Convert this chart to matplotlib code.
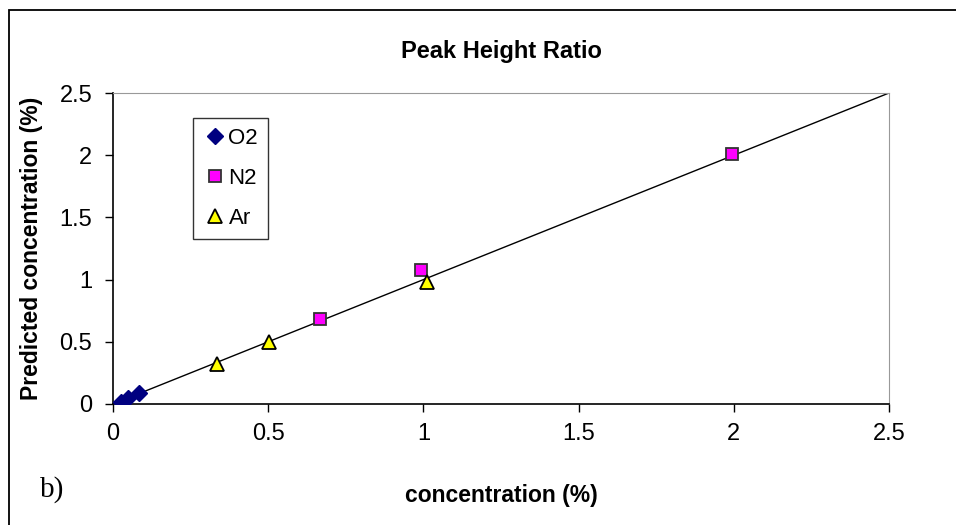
import matplotlib.pyplot as plt
from matplotlib.patches import Rectangle

# measured vs predicted concentration (%)
o2_conc = [0.025, 0.047, 0.085]
o2_pred = [0.02, 0.045, 0.085]
n2_conc = [0.667, 0.993, 1.993]
n2_pred = [0.68, 1.08, 2.01]
ar_conc = [0.335, 0.503, 1.01]
ar_pred = [0.32, 0.50, 0.98]
ideal = [0, 2.5]
ticks = [0, 0.5, 1, 1.5, 2, 2.5]
tick_labels = ['0', '0.5', '1', '1.5', '2', '2.5']

plt.rcParams['font.family'] = ['Liberation Sans', 'DejaVu Sans']

fig = plt.figure(figsize=(9.56, 5.25), dpi=100)
ax = fig.add_axes([113 / 956, 1 - 404 / 525, 776 / 956, 311 / 525])

# outer chart frame
fig.patches.append(Rectangle((9 / 956, -0.1), 1.2, 1.1 - 10 / 525,
                             transform=fig.transFigure, fill=False,
                             edgecolor='black', linewidth=1.3))

ax.plot(ideal, ideal, color='black', linewidth=1, zorder=1)
ax.plot(o2_conc, o2_pred, linestyle='none', marker='D', markersize=8.5,
        color='#000080', markeredgecolor='#000080', label='O2', zorder=3)
ax.plot(n2_conc, n2_pred, linestyle='none', marker='s', markersize=9,
        color='#FF00FF', markeredgecolor='#333333', markeredgewidth=1.3,
        label='N2', zorder=3)
ax.plot(ar_conc, ar_pred, linestyle='none', marker='^', markersize=10,
        color='#FFFF00', markeredgecolor='black', markeredgewidth=1.3,
        label='Ar', zorder=3)

ax.set_xlim(0, 2.5)
ax.set_ylim(0, 2.5)
ax.set_xticks(ticks)
ax.set_xticklabels(tick_labels)
ax.set_yticks(ticks)
ax.set_yticklabels(tick_labels)
ax.tick_params(direction='out', length=6, width=1, labelsize=17)
ax.tick_params(axis='x', pad=8)
ax.tick_params(axis='y', pad=9)

for side in ['top', 'right']:
    ax.spines[side].set_color('#999999')
for side in ['left', 'bottom']:
    ax.spines[side].set_color('black')
    ax.spines[side].set_linewidth(1.2)

ax.set_title('Peak Height Ratio', fontsize=17, fontweight='bold', pad=25)
ax.set_xlabel('concentration (%)', fontsize=16.5, fontweight='bold', labelpad=28)
ax.set_ylabel('Predicted concentration (%)', fontsize=16.5, fontweight='bold',
              labelpad=12)

leg = ax.legend(loc='upper left', bbox_to_anchor=(0.103, 0.92), fontsize=16,
                frameon=True, fancybox=False, edgecolor='black',
                borderaxespad=0, handletextpad=0.05, handlelength=1.1,
                labelspacing=0.85, borderpad=0.45)
leg.get_frame().set_linewidth(1)

fig.text(40 / 956, 1 - 490 / 525, 'b)', fontsize=21, family='Liberation Serif',
         va='center', ha='left')

fig.savefig('out.png', dpi=100)
